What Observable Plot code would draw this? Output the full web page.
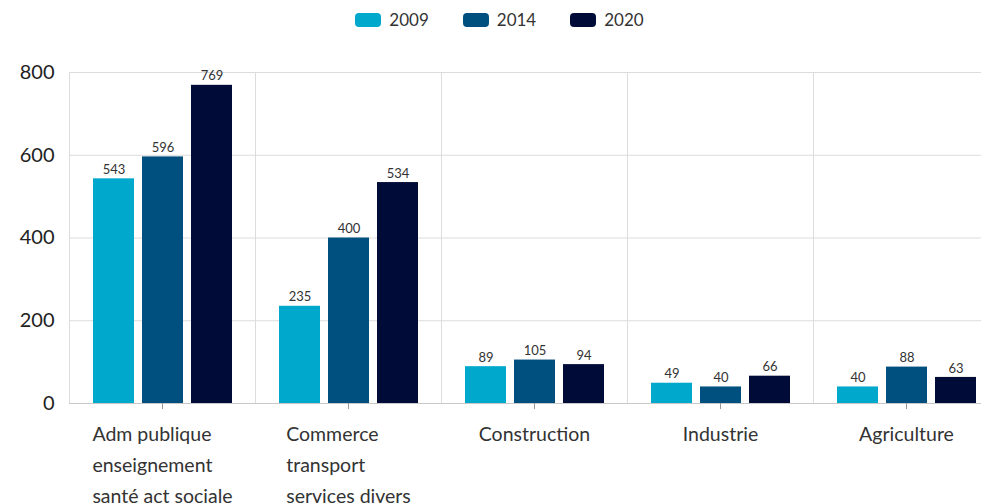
<!DOCTYPE html>
<html><head><meta charset="utf-8">
<script src="https://cdn.jsdelivr.net/npm/d3@7"></script>
<script src="https://cdn.jsdelivr.net/npm/@observablehq/plot@0.6"></script>
<style>
html,body{margin:0;padding:0;overflow:hidden;background:#fff;width:981px;height:504px;}
#legend{height:45px;display:flex;justify-content:center;align-items:center;padding-left:18px;box-sizing:border-box;font-family:Lato,sans-serif;font-size:17px;color:#333;padding-bottom:6px;}
.item{display:flex;align-items:center;margin:0 17px;}
.sw{width:26px;height:14px;border-radius:4px;margin-right:8px;}
#chart svg{max-width:none !important;}
</style></head>
<body>
<div id="legend"></div>
<div id="chart"></div>
<script>
const categories = ["Adm publique\nenseignement\nsanté act sociale", "Commerce\ntransport\nservices divers", "Construction", "Industrie", "Agriculture"];
const years = ["2009", "2014", "2020"];
const v2009 = [543, 235, 89, 49, 40];
const v2014 = [596, 400, 105, 40, 88];
const v2020 = [769, 534, 94, 66, 63];
const colors = ["#00a9cc", "#00507f", "#000b38"];
const yTicks = [0, 200, 400, 600, 800];

const series = [v2009, v2014, v2020];
const data = categories.flatMap((c, i) => years.map((y, j) => ({cat: c, year: y, value: series[j][i]})));

const legend = document.getElementById("legend");
years.forEach((y, j) => {
  const it = document.createElement("div"); it.className = "item";
  const sw = document.createElement("div"); sw.className = "sw"; sw.style.background = colors[j];
  const t = document.createElement("span"); t.textContent = y;
  it.appendChild(sw); it.appendChild(t); legend.appendChild(it);
});

const labelFont = 19.5;
const ctx = document.createElement("canvas").getContext("2d");
ctx.font = `${labelFont}px Lato`;
const labelMarks = categories.map(c => {
  const w = Math.max(...c.split("\n").map(s => ctx.measureText(s).width));
  return Plot.text([c], {fx: d => d, text: d => d, frameAnchor: "bottom", lineAnchor: "top", textAnchor: "start",
    dx: -w / 2, dy: 16, lineHeight: 1.58, fontSize: labelFont, fill: "#333"});
});

const chart = Plot.plot({
  width: 1000, height: 459,
  marginLeft: 67, marginRight: 0, marginTop: 27, marginBottom: 101,
  style: {fontFamily: "Lato, sans-serif", background: "#fff", overflow: "visible", maxWidth: "none"},
  fx: {domain: categories, padding: 0, label: null, axis: null},
  x: {domain: years, paddingInner: 0.17, paddingOuter: 0.47, axis: null},
  y: {domain: [0, 800], label: null, axis: null},
  color: {domain: years, range: colors},
  marks: [
    Plot.ruleY(yTicks, {stroke: "#dcdcdc"}),
    Plot.frame({stroke: "#dcdcdc"}),
    Plot.ruleY([0], {stroke: "#c8c8c8"}),
    Plot.barY(data, {fx: "cat", x: "year", y: "value", fill: "year"}),
    Plot.text(data, {fx: "cat", x: "year", y: "value", text: "value", dy: -9, fontSize: 13, fill: "#333"}),
    Plot.axisY({ticks: yTicks, tickSize: 0, tickPadding: 15, fontSize: 20, color: "#222", label: null}),
    Plot.axisFx({anchor: "bottom", tickSize: 6, stroke: "#999", tickFormat: () => "", label: null}),
    ...labelMarks
  ]
});
document.getElementById("chart").appendChild(chart);
</script>
</body></html>
